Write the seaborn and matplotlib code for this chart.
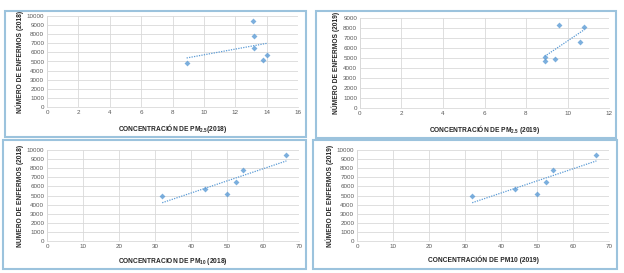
import matplotlib
matplotlib.use("Agg")
import matplotlib.pyplot as plt
import seaborn as sns
import numpy as np
import pandas as pd
from matplotlib.patches import Rectangle

# Data
pm25_2018 = [8.9, 13.1, 13.2, 13.2, 13.8, 14.0]
enf_2018_a = [4850, 9450, 7800, 6450, 5200, 5750]
pm25_2019 = [8.9, 8.9, 9.4, 9.6, 10.6, 10.8]
enf_2019_a = [5050, 4700, 4900, 8350, 6600, 8100]
pm10_2018 = [32.0, 44.0, 50.0, 52.5, 54.5, 66.5]
enf_2018_b = [4900, 5750, 5200, 6450, 7800, 9450]
pm10_2019 = [32.0, 44.0, 50.0, 52.5, 54.5, 66.5]
enf_2019_b = [4900, 5750, 5200, 6450, 7800, 9450]

xlabels = ["CONCENTRACIÓN DE PM$_{\\mathbf{2.5}}$(2018)",
           "CONCENTRACIÓN DE PM$_{\\mathbf{2.5}}$ (2019)",
           "CONCENTRACION DE PM$_{\\mathbf{10}}$ (2018)",
           "CONCENTRACIÓN DE PM10 (2019)"]
ylabels = ["NÚMERO DE ENFERMOS (2018)", "NÚMERO DE ENFERMOS (2019)",
           "NUMERO DE ENFERMOS (2018)", "NÚMERO DE ENFERMOS (2019)"]

sns.set_theme(style="white")
plt.rcParams['font.family'] = ['Liberation Sans', 'DejaVu Sans']
plt.rcParams['mathtext.fontset'] = 'custom'
plt.rcParams['mathtext.rm'] = 'Liberation Sans'
plt.rcParams['mathtext.bf'] = 'Liberation Sans:bold'

fig = plt.figure(figsize=(6.24, 2.73), dpi=100)
W, H = 624, 273

def fr(x0, y0, x1, y1):
    return [x0 / W, 1 - y1 / H, (x1 - x0) / W, (y1 - y0) / H]

frames = [(5, 11, 306, 137), (316, 11, 616, 138), (3, 140, 306, 269), (313, 140, 617, 269)]
for (x0, y0, x1, y1) in frames:
    fig.patches.append(Rectangle((x0 / W, 1 - y1 / H), (x1 - x0) / W, (y1 - y0) / H,
                                 transform=fig.transFigure, fill=False,
                                 edgecolor="#9cc3dd", linewidth=1.5))

axes_px = [(47, 16, 298, 107), (360, 18, 609, 108), (47, 150, 299, 241), (357, 150, 609, 241)]
datasets = [(pm25_2018, enf_2018_a, 16, 2, 10000, 1000),
            (pm25_2019, enf_2019_a, 12, 2, 9000, 1000),
            (pm10_2018, enf_2018_b, 70, 10, 10000, 1000),
            (pm10_2019, enf_2019_b, 70, 10, 10000, 1000)]

blue = "#5b9bd5"
for i, (pos, (xv, yv, xmax, xstep, ymax, ystep)) in enumerate(zip(axes_px, datasets)):
    ax = fig.add_axes(fr(*pos))
    df = pd.DataFrame({"x": xv, "y": yv})
    sns.regplot(data=df, x="x", y="y", ax=ax, ci=None, marker="D",
                scatter_kws=dict(s=9, color=blue, linewidths=0, zorder=3),
                line_kws=dict(color=blue, linestyle=(0, (1, 1)), linewidth=0.9))
    ax.set_xlim(0, xmax)
    ax.set_ylim(0, ymax)
    ax.set_xticks(np.arange(0, xmax + 0.01, xstep))
    ax.set_yticks(np.arange(0, ymax + 1, ystep))
    ax.grid(True, color="#d9d9d9", linewidth=0.6)
    ax.set_axisbelow(True)
    for s in ["top", "right"]:
        ax.spines[s].set_visible(False)
    for s in ["left", "bottom"]:
        ax.spines[s].set_color("#d9d9d9")
        ax.spines[s].set_linewidth(0.6)
    ax.tick_params(axis="both", labelsize=4.5, colors="#595959", length=0, pad=2)
    ax.set_xlabel(xlabels[i], fontsize=4.8, fontweight="bold", color="#262626", labelpad=5)
    ax.set_ylabel(ylabels[i], fontsize=4.8, fontweight="bold", color="#262626", labelpad=2)

fig.savefig("out.png", dpi=100)
